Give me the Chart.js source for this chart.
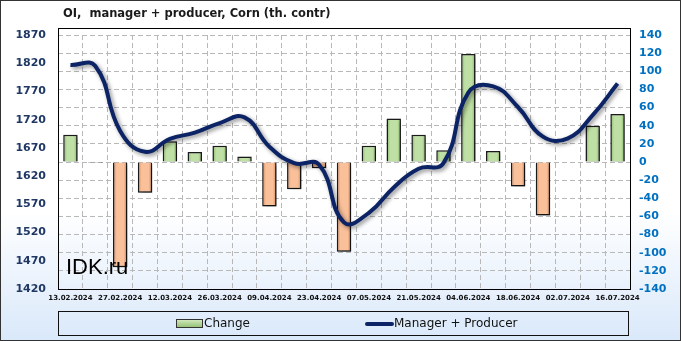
<!DOCTYPE html>
<html>
<head>
<meta charset="utf-8">
<script src="https://cdn.jsdelivr.net/npm/chart.js@4"></script>
<style>
  html, body { margin: 0; padding: 0; }
  #wrap { width: 681px; height: 341px; position: relative;
          background: linear-gradient(to bottom, #ffffff 0%, #ffffff 62%, #d9e8fa 100%); }
</style>
</head>
<body>
<div id="wrap"><canvas id="chart" width="681" height="341"></canvas></div>
<script>
// weekly dates
var dates = ['13.02.2024','20.02.2024','27.02.2024','05.03.2024','12.03.2024','19.03.2024','26.03.2024',
             '02.04.2024','09.04.2024','16.04.2024','23.04.2024','30.04.2024','07.05.2024','14.05.2024',
             '21.05.2024','28.05.2024','04.06.2024','11.06.2024','18.06.2024','25.06.2024','02.07.2024',
             '09.07.2024','16.07.2024'];
// weekly change (right axis)
var change = [30, -1, -116, -34, 23, 11, 18, 6, -49, -30, -7, -99, 18, 48, 30, 13, 119, 12, -27, -59, 0, 40, 53];
// manager + producer OI (left axis)
var mp = [1817, 1815, 1700, 1663, 1686, 1697, 1714, 1724, 1672, 1643, 1640, 1538, 1555, 1600, 1633, 1643,
          1768, 1779, 1742, 1690, 1687, 1728, 1784];

var title = 'OI,  manager + producer, Corn (th. contr)';

function barFill(ctx) {
    var v = ctx.raw;
    var c = ctx.chart;
    var xs = c.scales.x;
    if (!xs || !c.chartArea) return v >= 0 ? '#b2d596' : '#f4b183';
    var x = xs.getPixelForValue(ctx.dataIndex);
    var g = c.ctx.createLinearGradient(x - 7, 0, x + 7, 0);
    if (v >= 0) {
        g.addColorStop(0, '#86b566'); g.addColorStop(0.25, '#bfe0a5');
        g.addColorStop(0.75, '#bfe0a5'); g.addColorStop(1, '#86b566');
    } else {
        g.addColorStop(0, '#d8875a'); g.addColorStop(0.25, '#f9c09a');
        g.addColorStop(0.75, '#f9c09a'); g.addColorStop(1, '#d8875a');
    }
    return g;
}

var decor = {
    id: 'decor',
    beforeDatasetDraw: function(chart, args) {
        var ctx = chart.ctx;
        ctx.save();
        ctx.shadowColor = 'rgba(0,0,0,0.45)';
        ctx.shadowBlur = 4;
        ctx.shadowOffsetX = 2;
        ctx.shadowOffsetY = 2;
    },
    afterDatasetDraw: function(chart) {
        chart.ctx.restore();
    },
    afterDraw: function(chart) {
        var ctx = chart.ctx;
        var a = chart.chartArea;
        ctx.save();
        // plot frame
        ctx.strokeStyle = '#000';
        ctx.lineWidth = 1;
        ctx.strokeRect(a.left + 0.5, a.top - 7 + 0.5, a.right - a.left, a.bottom - a.top + 7);
        // title
        ctx.fillStyle = '#1a1a1a';
        ctx.font = 'bold 11.5px "DejaVu Sans"';
        ctx.textBaseline = 'middle';
        ctx.textAlign = 'left';
        ctx.fillText(title, 63, 14);
        // watermark
        ctx.font = '22px "Liberation Sans"';
        ctx.fillStyle = '#000';
        ctx.fillText('IDK.ru', 66, 268);
        // legend box
        ctx.strokeStyle = '#111';
        ctx.strokeRect(58.5, 311.5, 570, 24);
        var g = ctx.createLinearGradient(176, 320, 176, 328);
        g.addColorStop(0, '#cfe8bb'); g.addColorStop(1, '#8fbc6e');
        ctx.fillStyle = g;
        ctx.fillRect(176, 319, 26, 9);
        ctx.strokeStyle = '#333';
        ctx.strokeRect(176.5, 319.5, 26, 8);
        ctx.fillStyle = '#111';
        ctx.font = '12px "DejaVu Sans"';
        ctx.fillText('Change', 204, 324);
        ctx.strokeStyle = '#0c2466';
        ctx.lineWidth = 4;
        ctx.lineCap = 'round';
        ctx.beginPath(); ctx.moveTo(367, 324); ctx.lineTo(392, 324); ctx.stroke();
        ctx.fillText('Manager + Producer', 394, 324);
        // outer border
        ctx.lineWidth = 1;
        ctx.strokeStyle = '#333';
        ctx.strokeRect(0.5, 0.5, 680, 340);
        ctx.restore();
    }
};

new Chart(document.getElementById('chart'), {
    type: 'bar',
    data: {
        labels: dates,
        datasets: [
            {
                type: 'line',
                label: 'Manager + Producer',
                data: mp,
                yAxisID: 'y',
                borderColor: '#0c2466',
                borderWidth: 4,
                pointRadius: 0,
                tension: 0.45,
                fill: false,
                order: 0
            },
            {
                type: 'bar',
                label: 'Change',
                data: change,
                yAxisID: 'y1',
                backgroundColor: barFill,
                borderColor: '#1b1b1b',
                borderWidth: 1.5,
                barPercentage: 0.58,
                categoryPercentage: 1,
                order: 1
            }
        ]
    },
    options: {
        responsive: false,
        animation: false,
        layout: { padding: { top: 35, left: 0, right: 0, bottom: 0 } },
        plugins: { legend: { display: false }, tooltip: { enabled: false } },
        scales: {
            x: {
                offset: true,
                grid: { offset: true, color: '#b8b8b8', drawTicks: false },
                border: { display: false, dash: [5, 3] },
                ticks: {
                    autoSkip: false, maxRotation: 0, minRotation: 0, padding: 5,
                    color: '#111',
                    font: { family: 'DejaVu Sans', size: 7, weight: 'bold' },
                    callback: function(v, i) { return i % 2 === 0 ? dates[i] : ''; }
                },
                afterFit: function(s) { s.height = 52; }
            },
            y: {
                position: 'left',
                min: 1420, max: 1870,
                grid: { display: false, drawTicks: false },
                border: { display: false },
                ticks: {
                    stepSize: 50, padding: 12, color: '#1f3864',
                    font: { family: 'DejaVu Sans', size: 11, weight: 'bold' },
                    callback: function(v) { return String(v); }
                },
                afterFit: function(s) { s.width = 58; }
            },
            y1: {
                position: 'right',
                min: -140, max: 140,
                grid: { color: '#b8b8b8', drawTicks: false },
                border: { display: false, dash: [5, 3] },
                ticks: {
                    stepSize: 20, padding: 9, color: '#0070c0',
                    font: { family: 'DejaVu Sans', size: 11, weight: 'bold' },
                    callback: function(v) { return String(v); }
                },
                afterFit: function(s) { s.width = 51; }
            }
        }
    },
    plugins: [decor]
});
</script>
</body>
</html>
